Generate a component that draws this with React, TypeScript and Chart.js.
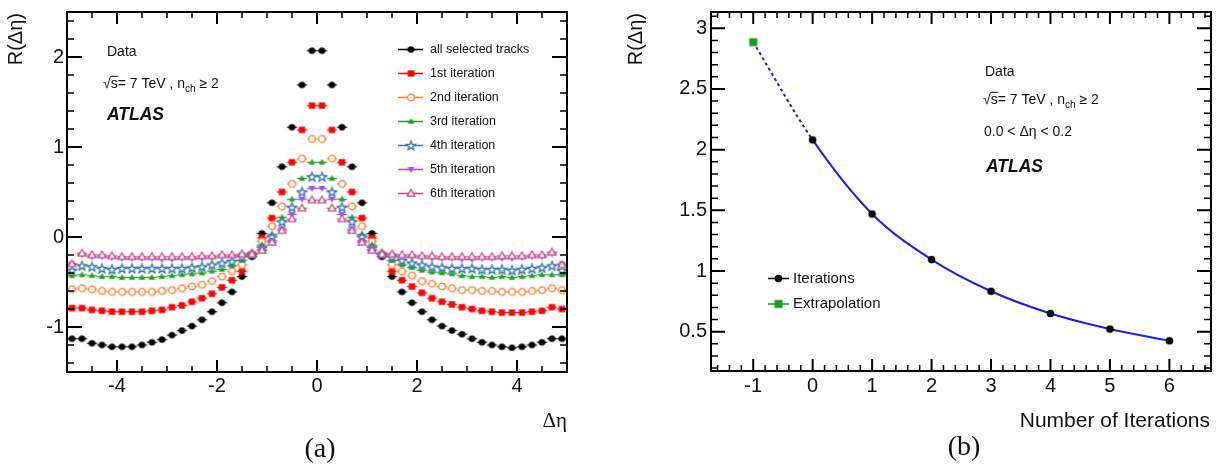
import React, { useEffect, useRef } from 'react';
import { Chart, registerables } from 'chart.js';

Chart.register(...registerables);

const SANS = '"Liberation Sans", Arial, Helvetica, sans-serif';
const SERIF = '"Liberation Serif", "Times New Roman", serif';
const INK = '#111111';

// ---------------- Panel (a): R(Δη) vs Δη ----------------
const etaBins = [
  -4.9, -4.7, -4.5, -4.3, -4.1, -3.9, -3.7, -3.5, -3.3, -3.1, -2.9, -2.7, -2.5, -2.3, -2.1, -1.9, -1.7, -1.5, -1.3, -1.1, -0.9, -0.7, -0.5, -0.3, -0.1,
  0.1, 0.3, 0.5, 0.7, 0.9, 1.1, 1.3, 1.5, 1.7, 1.9, 2.1, 2.3, 2.5, 2.7, 2.9, 3.1, 3.3, 3.5, 3.7, 3.9, 4.1, 4.3, 4.5, 4.7, 4.9,
];
const allSelectedTracks = [
  -1.13, -1.13, -1.18, -1.2, -1.22, -1.22, -1.22, -1.2, -1.17, -1.14, -1.09, -1.04, -0.99, -0.92, -0.83, -0.73, -0.61, -0.44, -0.22, 0.04, 0.38, 0.78, 1.22, 1.69, 2.07,
  2.07, 1.69, 1.22, 0.78, 0.38, 0.04, -0.22, -0.44, -0.61, -0.73, -0.83, -0.92, -0.99, -1.04, -1.08, -1.13, -1.17, -1.2, -1.22, -1.23, -1.22, -1.2, -1.17, -1.13, -1.13,
];
const iteration1 = [
  -0.79, -0.79, -0.81, -0.82, -0.83, -0.83, -0.83, -0.83, -0.82, -0.81, -0.78, -0.76, -0.72, -0.68, -0.63, -0.56, -0.48, -0.38, -0.19, -0.01, 0.21, 0.5, 0.83, 1.19, 1.46,
  1.46, 1.19, 0.83, 0.5, 0.21, -0.01, -0.19, -0.38, -0.48, -0.55, -0.62, -0.68, -0.72, -0.75, -0.78, -0.8, -0.82, -0.83, -0.84, -0.84, -0.84, -0.83, -0.82, -0.78, -0.8,
];
const iteration2 = [
  -0.58, -0.57, -0.58, -0.6, -0.61, -0.61, -0.61, -0.61, -0.61, -0.6, -0.59, -0.57, -0.55, -0.53, -0.49, -0.44, -0.38, -0.31, -0.19, -0.05, 0.12, 0.34, 0.59, 0.87, 1.09,
  1.09, 0.87, 0.59, 0.34, 0.12, -0.05, -0.19, -0.31, -0.38, -0.43, -0.49, -0.52, -0.55, -0.57, -0.59, -0.59, -0.6, -0.6, -0.61, -0.61, -0.61, -0.6, -0.59, -0.57, -0.59,
];
const iteration3 = [
  -0.43, -0.42, -0.43, -0.44, -0.44, -0.45, -0.45, -0.45, -0.45, -0.44, -0.43, -0.42, -0.41, -0.4, -0.38, -0.36, -0.32, -0.26, -0.2, -0.09, 0.03, 0.22, 0.42, 0.65, 0.83,
  0.83, 0.65, 0.42, 0.22, 0.03, -0.09, -0.2, -0.26, -0.31, -0.34, -0.37, -0.39, -0.4, -0.41, -0.43, -0.44, -0.44, -0.45, -0.44, -0.45, -0.44, -0.43, -0.42, -0.42, -0.42,
];
const iteration4 = [
  -0.37, -0.32, -0.33, -0.35, -0.36, -0.35, -0.35, -0.35, -0.35, -0.35, -0.35, -0.35, -0.34, -0.33, -0.31, -0.29, -0.27, -0.22, -0.19, -0.12, 0.0, 0.17, 0.33, 0.5, 0.67,
  0.67, 0.5, 0.33, 0.17, 0.0, -0.12, -0.19, -0.22, -0.26, -0.29, -0.31, -0.33, -0.34, -0.35, -0.35, -0.35, -0.36, -0.36, -0.36, -0.37, -0.36, -0.35, -0.34, -0.32, -0.37,
];
const iteration5 = [
  -0.3, -0.2, -0.22, -0.22, -0.23, -0.24, -0.24, -0.24, -0.24, -0.25, -0.25, -0.24, -0.24, -0.24, -0.23, -0.22, -0.22, -0.2, -0.19, -0.14, -0.04, 0.09, 0.25, 0.42, 0.54,
  0.54, 0.42, 0.25, 0.09, -0.04, -0.14, -0.19, -0.2, -0.22, -0.22, -0.23, -0.24, -0.24, -0.24, -0.25, -0.25, -0.24, -0.24, -0.24, -0.24, -0.23, -0.22, -0.22, -0.19, -0.3,
];
const iteration6 = [
  -0.3, -0.18, -0.2, -0.2, -0.21, -0.22, -0.22, -0.22, -0.22, -0.22, -0.22, -0.22, -0.22, -0.21, -0.21, -0.2, -0.2, -0.19, -0.19, -0.15, -0.06, 0.07, 0.2, 0.32, 0.41,
  0.41, 0.32, 0.2, 0.07, -0.06, -0.15, -0.19, -0.19, -0.2, -0.2, -0.21, -0.21, -0.22, -0.22, -0.22, -0.22, -0.22, -0.22, -0.21, -0.21, -0.21, -0.2, -0.2, -0.17, -0.31,
];
const seriesNamesA = [
  'all selected tracks', '1st iteration', '2nd iteration', '3rd iteration', '4th iteration', '5th iteration', '6th iteration',
];
const xTickValuesA = [-4, -2, 0, 2, 4];
const yTickValuesA = [-1, 0, 1, 2];

// ---------------- Panel (b): R(Δη) vs number of iterations ----------------
const iterationNumbers = [0, 1, 2, 3, 4, 5, 6];
const iterationValues = [2.08, 1.47, 1.094, 0.833, 0.65, 0.522, 0.425];
const extrapolationNumbers = [-1];
const extrapolationValues = [2.885];
const legendNamesB = ['Iterations', 'Extrapolation'];
const xTickValuesB = [-1, 0, 1, 2, 3, 4, 5, 6];
const yTickValuesB = [0.5, 1, 1.5, 2, 2.5, 3];

// ---------------- styles ----------------
const seriesColorsA = ['#000000', '#ff0000', '#ff7f30', '#21a021', '#3479b4', '#a050ff', '#cc4680'];
const seriesKindsA = ['circle', 'square', 'openCircle', 'triUp', 'openStar', 'triDown', 'openTriUp'];

function makeMarker(kind: string, color: string, bar: number): HTMLCanvasElement {
  const S = 15;
  const m = S / 2;
  const c = document.createElement('canvas');
  c.width = S;
  c.height = S;
  const g = c.getContext('2d') as CanvasRenderingContext2D;
  g.strokeStyle = color;
  g.fillStyle = color;
  if (bar > 0) {
    g.lineWidth = 1.3;
    g.beginPath();
    g.moveTo(m - bar / 2, m);
    g.lineTo(m + bar / 2, m);
    g.stroke();
  }
  g.lineWidth = 1.3;
  const poly = (pts: number[][], filled: boolean) => {
    g.beginPath();
    pts.forEach(([x, y], i) => (i ? g.lineTo(m + x, m + y) : g.moveTo(m + x, m + y)));
    g.closePath();
    if (filled) {
      g.fill();
    } else {
      g.fillStyle = '#ffffff';
      g.fill();
      g.stroke();
      g.fillStyle = color;
    }
  };
  switch (kind) {
    case 'circle':
      g.beginPath();
      g.arc(m, m, 3.3, 0, Math.PI * 2);
      g.fill();
      break;
    case 'bigCircle':
      g.beginPath();
      g.arc(m, m, 3.8, 0, Math.PI * 2);
      g.fill();
      break;
    case 'square':
      g.fillRect(m - 3.2, m - 3.2, 6.4, 6.4);
      break;
    case 'bigSquare':
      g.fillRect(m - 4, m - 4, 8, 8);
      break;
    case 'openCircle':
      g.beginPath();
      g.arc(m, m, 3.3, 0, Math.PI * 2);
      g.fillStyle = '#ffffff';
      g.fill();
      g.stroke();
      break;
    case 'triUp':
      poly([[0, -3.4], [3.2, 2.3], [-3.2, 2.3]], true);
      break;
    case 'triDown':
      poly([[-3.4, -2.4], [3.4, -2.4], [0, 3.5]], true);
      break;
    case 'openTriUp':
      poly([[0, -4], [3.8, 2.7], [-3.8, 2.7]], false);
      break;
    case 'openStar': {
      const pts: number[][] = [];
      for (let i = 0; i < 10; i++) {
        const r = i % 2 === 0 ? 4.8 : 2.0;
        const a = -Math.PI / 2 + (i * Math.PI) / 5;
        pts.push([r * Math.cos(a), r * Math.sin(a) + 0.4]);
      }
      poly(pts, false);
      break;
    }
    default:
      break;
  }
  return c;
}

const rootFrame = {
  id: 'rootFrame',
  afterDatasetsDraw(chart: any, _args: any, o: any) {
    const { ctx, chartArea: a } = chart;
    const xs = chart.scales.x;
    const ys = chart.scales.y;
    ctx.save();
    ctx.strokeStyle = '#000000';
    const each = (scale: any, minor: number, major: number, cb: (p: number, maj: boolean) => void) => {
      const n0 = Math.ceil(scale.min / minor - 1e-6);
      const n1 = Math.floor(scale.max / minor + 1e-6);
      for (let n = n0; n <= n1; n++) {
        const v = n * minor;
        const r = v / major;
        cb(scale.getPixelForValue(v), Math.abs(r - Math.round(r)) < 1e-6);
      }
    };
    each(xs, o.xMinor, o.xMajor, (p, maj) => {
      const L = maj ? o.xMajLen : o.xMinLen;
      ctx.lineWidth = maj ? 2 : 1.5;
      ctx.beginPath();
      ctx.moveTo(p, a.bottom);
      ctx.lineTo(p, a.bottom - L);
      ctx.moveTo(p, a.top);
      ctx.lineTo(p, a.top + L);
      ctx.stroke();
    });
    each(ys, o.yMinor, o.yMajor, (p, maj) => {
      const L = maj ? o.yMajLen : o.yMinLen;
      ctx.lineWidth = maj ? 2 : 1.5;
      ctx.beginPath();
      ctx.moveTo(a.left, p);
      ctx.lineTo(a.left + L, p);
      ctx.moveTo(a.right, p);
      ctx.lineTo(a.right - L, p);
      ctx.stroke();
    });
    ctx.lineWidth = 2;
    ctx.strokeRect(a.left, a.top, a.right - a.left, a.bottom - a.top);
    ctx.restore();
  },
};

function drawSqrtLine(ctx: CanvasRenderingContext2D, x: number, y: number, size: number) {
  ctx.font = `${size}px ${SANS}`;
  ctx.textAlign = 'left';
  ctx.textBaseline = 'middle';
  let cx = x;
  ctx.fillText('√', cx, y);
  cx += ctx.measureText('√').width;
  ctx.fillText('s', cx, y);
  const ws = ctx.measureText('s').width;
  ctx.beginPath();
  ctx.lineWidth = 1;
  ctx.strokeStyle = INK;
  ctx.moveTo(cx - 0.5, y - size * 0.55);
  ctx.lineTo(cx + ws + 0.5, y - size * 0.55);
  ctx.stroke();
  cx += ws;
  const p1 = '= 7 TeV , n';
  ctx.fillText(p1, cx, y);
  cx += ctx.measureText(p1).width;
  ctx.font = `${Math.round(size * 0.7)}px ${SANS}`;
  ctx.fillText('ch', cx, y + size * 0.38);
  cx += ctx.measureText('ch').width;
  ctx.font = `${size}px ${SANS}`;
  ctx.fillText(' ≥ 2', cx, y);
}

function drawYTitle(ctx: CanvasRenderingContext2D, x: number, yTop: number) {
  ctx.save();
  ctx.translate(x, yTop);
  ctx.rotate(-Math.PI / 2);
  ctx.font = `20px ${SANS}`;
  ctx.textAlign = 'right';
  ctx.textBaseline = 'middle';
  ctx.fillStyle = INK;
  ctx.fillText('R(Δη)', 0, 0);
  ctx.restore();
}

function axisOpts(min: number, max: number, values: number[], pad: number, fitSize: number, horizontal: boolean) {
  return {
    type: 'linear',
    min,
    max,
    grid: { display: false, drawTicks: false },
    border: { display: false },
    ticks: {
      font: { family: SANS, size: 20 },
      color: INK,
      padding: pad,
      maxRotation: 0,
      autoSkip: false,
      callback: (v: any) => String(v),
    },
    afterBuildTicks: (s: any) => {
      s.ticks = values.map((v) => ({ value: v }));
    },
    afterFit: (s: any) => {
      if (horizontal) s.height = fitSize;
      else s.width = fitSize;
      s.paddingLeft = 0;
      s.paddingRight = 0;
      s.paddingTop = 0;
      s.paddingBottom = 0;
    },
  };
}

export default function App() {
  const refA = useRef<HTMLCanvasElement>(null);
  const refB = useRef<HTMLCanvasElement>(null);

  useEffect(() => {
    // ---------- chart (a) ----------
    const seriesA = [allSelectedTracks, iteration1, iteration2, iteration3, iteration4, iteration5, iteration6];
    const markersA = seriesKindsA.map((k, i) => makeMarker(k, seriesColorsA[i], 10));
    const datasetsA = seriesA.map((vals, i) => ({
      label: seriesNamesA[i],
      data: etaBins.map((x, j) => ({ x, y: vals[j] })),
      pointStyle: markersA[i],
      pointRadius: 5,
      pointHoverRadius: 5,
      showLine: false,
      order: seriesA.length - i,
    }));

    const decorA = {
      id: 'decorA',
      afterDraw(chart: any) {
        const ctx = chart.ctx as CanvasRenderingContext2D;
        ctx.save();
        ctx.fillStyle = INK;
        drawYTitle(ctx, 16, 13);
        ctx.textBaseline = 'middle';
        ctx.font = `21px ${SERIF}`;
        ctx.textAlign = 'right';
        ctx.fillText('Δη', 567, 421);
        ctx.font = `28px ${SERIF}`;
        ctx.textAlign = 'center';
        ctx.fillText('(a)', 320, 450);
        ctx.textAlign = 'left';
        ctx.font = `14px ${SANS}`;
        ctx.fillText('Data', 107, 52);
        drawSqrtLine(ctx, 103, 84, 14);
        ctx.font = `italic bold 17.5px ${SANS}`;
        ctx.textAlign = 'left';
        ctx.fillText('ATLAS', 107, 115);
        // legend
        const ys = [49.5, 73.5, 97.5, 121.5, 145.5, 169.5, 193.5];
        seriesNamesA.forEach((name, i) => {
          const y = ys[i];
          ctx.strokeStyle = seriesColorsA[i];
          ctx.lineWidth = 1.5;
          ctx.beginPath();
          ctx.moveTo(398, y);
          ctx.lineTo(423, y);
          ctx.stroke();
          const mk = markersA[i];
          ctx.drawImage(mk, 411 - mk.width / 2, y - mk.height / 2);
          ctx.fillStyle = INK;
          ctx.font = `12.5px ${SANS}`;
          ctx.textAlign = 'left';
          ctx.textBaseline = 'middle';
          ctx.fillText(name, 430, y);
        });
        ctx.restore();
      },
    };

    const chartA = new Chart(refA.current as HTMLCanvasElement, {
      type: 'scatter',
      data: { datasets: datasetsA as any },
      options: {
        responsive: false,
        animation: false,
        events: [],
        layout: { padding: { left: 0, top: 12, right: 33, bottom: 0 } },
        plugins: {
          legend: { display: false },
          tooltip: { enabled: false },
          rootFrame: { xMinor: 0.5, xMajor: 2, yMinor: 0.2, yMajor: 1, xMajLen: 12, xMinLen: 6, yMajLen: 15, yMinLen: 7 },
        } as any,
        scales: {
          x: axisOpts(-5, 5, xTickValuesA, 2, 94, true) as any,
          y: axisOpts(-1.5, 2.5, yTickValuesA, 3, 67, false) as any,
        },
      },
      plugins: [rootFrame as any, decorA as any],
    });

    // ---------- chart (b) ----------
    const markerIter = makeMarker('bigCircle', '#000000', 0);
    const markerExtrap = makeMarker('bigSquare', '#1a9a1a', 0);
    const fitX = [...extrapolationNumbers, ...iterationNumbers];
    const fitY = [...extrapolationValues, ...iterationValues];

    const decorB = {
      id: 'decorB',
      afterDraw(chart: any) {
        const ctx = chart.ctx as CanvasRenderingContext2D;
        ctx.save();
        ctx.fillStyle = INK;
        drawYTitle(ctx, 36.5, 13);
        ctx.textBaseline = 'middle';
        ctx.font = `21px ${SANS}`;
        ctx.textAlign = 'right';
        ctx.fillText('Number of Iterations', 610, 421);
        ctx.font = `28px ${SERIF}`;
        ctx.textAlign = 'center';
        ctx.fillText('(b)', 364, 448);
        ctx.textAlign = 'left';
        ctx.font = `14px ${SANS}`;
        ctx.fillText('Data', 385, 72);
        drawSqrtLine(ctx, 383, 100, 14);
        ctx.font = `14px ${SANS}`;
        ctx.textAlign = 'left';
        ctx.fillText('0.0 < Δη < 0.2', 384, 132);
        ctx.font = `italic bold 17.5px ${SANS}`;
        ctx.fillText('ATLAS', 386, 167);
        // legend
        const entries = [
          { y: 278.5, color: '#000000', mk: markerIter },
          { y: 304, color: '#1a9a1a', mk: markerExtrap },
        ];
        entries.forEach((e, i) => {
          ctx.strokeStyle = e.color;
          ctx.lineWidth = 1.5;
          ctx.beginPath();
          ctx.moveTo(168, e.y);
          ctx.lineTo(189, e.y);
          ctx.stroke();
          ctx.drawImage(e.mk, 178.5 - e.mk.width / 2, e.y - e.mk.height / 2);
          ctx.fillStyle = INK;
          ctx.font = `15px ${SANS}`;
          ctx.textAlign = 'left';
          ctx.textBaseline = 'middle';
          ctx.fillText(legendNamesB[i], 193, e.y);
        });
        ctx.restore();
      },
    };

    const chartB = new Chart(refB.current as HTMLCanvasElement, {
      type: 'scatter',
      data: {
        datasets: [
          {
            label: 'fit',
            data: fitX.map((x, i) => ({ x, y: fitY[i] })),
            showLine: true,
            borderColor: '#1f1fe6',
            borderWidth: 2,
            pointRadius: 0,
            cubicInterpolationMode: 'monotone',
            segment: { borderDash: (c: any) => (c.p0DataIndex === 0 ? [3, 3] : undefined) },
            order: 2,
          },
          {
            label: legendNamesB[0],
            data: iterationNumbers.map((x, i) => ({ x, y: iterationValues[i] })),
            pointStyle: markerIter,
            pointRadius: 5,
            showLine: false,
            order: 1,
          },
          {
            label: legendNamesB[1],
            data: extrapolationNumbers.map((x, i) => ({ x, y: extrapolationValues[i] })),
            pointStyle: markerExtrap,
            pointRadius: 5,
            showLine: false,
            order: 0,
          },
        ] as any,
      },
      options: {
        responsive: false,
        animation: false,
        events: [],
        layout: { padding: { left: 0, top: 12, right: 10, bottom: 0 } },
        plugins: {
          legend: { display: false },
          tooltip: { enabled: false },
          rootFrame: { xMinor: 0.2, xMajor: 1, yMinor: 0.1, yMajor: 0.5, xMajLen: 12, xMinLen: 6, yMajLen: 14, yMinLen: 7 },
        } as any,
        scales: {
          x: axisOpts(-1.71, 6.7, xTickValuesB, 3, 95, true) as any,
          y: axisOpts(0.176, 3.134, yTickValuesB, 4, 111, false) as any,
        },
      },
      plugins: [rootFrame as any, decorB as any],
    });

    return () => {
      chartA.destroy();
      chartB.destroy();
    };
  }, []);

  return (
    <div style={{ position: 'fixed', left: 0, top: 0, width: 1221, height: 466, background: '#ffffff', overflow: 'hidden' }}>
      <canvas
        ref={refA}
        width={600}
        height={466}
        style={{ position: 'absolute', left: 0, top: 0, width: 600, height: 466 }}
      />
      <canvas
        ref={refB}
        width={621}
        height={466}
        style={{ position: 'absolute', left: 600, top: 0, width: 621, height: 466 }}
      />
    </div>
  );
}
